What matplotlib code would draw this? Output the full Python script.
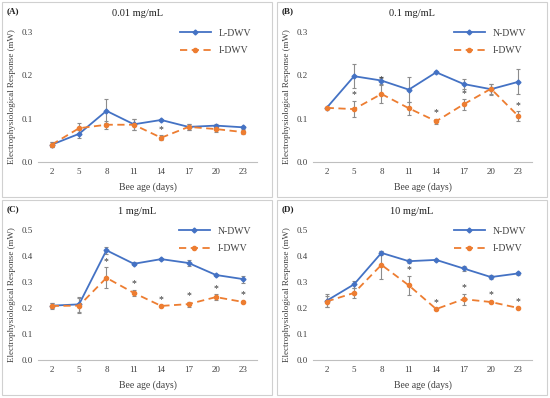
import numpy as np
import matplotlib.pyplot as plt
from matplotlib.patches import Rectangle
from matplotlib.lines import Line2D

plt.rcParams['font.family'] = ['Liberation Serif', 'DejaVu Serif']

ages = [2, 5, 8, 11, 14, 17, 20, 23]

# (A) 0.01 mg/mL
a_norm = [0.040, 0.065, 0.118, 0.087, 0.097, 0.081, 0.084, 0.080]
a_norm_err = [0.006, 0.010, 0.027, 0.013, 0.003, 0.007, 0.004, 0.004]
a_inf = [0.040, 0.078, 0.086, 0.086, 0.056, 0.081, 0.076, 0.069]
a_inf_err = [0.006, 0.012, 0.009, 0.013, 0.006, 0.007, 0.006, 0.005]
a_stars = [14]

# (B) 0.1 mg/mL
b_norm = [0.125, 0.198, 0.188, 0.167, 0.207, 0.180, 0.168, 0.185]
b_norm_err = [0.002, 0.028, 0.007, 0.029, 0.002, 0.011, 0.013, 0.029]
b_inf = [0.125, 0.122, 0.157, 0.124, 0.094, 0.133, 0.169, 0.106]
b_inf_err = [0.002, 0.019, 0.020, 0.015, 0.006, 0.012, 0.012, 0.011]
b_stars = [5, 8, 14, 17, 23]

# (C) 1 mg/mL
c_norm = [0.209, 0.214, 0.422, 0.370, 0.388, 0.373, 0.327, 0.311]
c_norm_err = [0.010, 0.028, 0.014, 0.006, 0.005, 0.011, 0.005, 0.013]
c_inf = [0.208, 0.209, 0.316, 0.258, 0.208, 0.215, 0.242, 0.223]
c_inf_err = [0.012, 0.030, 0.040, 0.012, 0.003, 0.010, 0.011, 0.005]
c_stars = [8, 11, 14, 17, 20, 23]

# (D) 10 mg/mL
d_norm = [0.228, 0.291, 0.412, 0.380, 0.385, 0.352, 0.319, 0.333]
d_norm_err = [0.025, 0.014, 0.009, 0.007, 0.004, 0.010, 0.008, 0.007]
d_inf = [0.225, 0.258, 0.366, 0.287, 0.196, 0.234, 0.223, 0.200]
d_inf_err = [0.022, 0.020, 0.055, 0.037, 0.003, 0.021, 0.005, 0.003]
d_stars = [11, 14, 17, 20, 23]

panels = [
    ('(A)', '0.01 mg/mL', 'L-DWV', a_norm, a_norm_err, a_inf, a_inf_err, a_stars, 0.3),
    ('(B)', '0.1 mg/mL', 'N-DWV', b_norm, b_norm_err, b_inf, b_inf_err, b_stars, 0.3),
    ('(C)', '1 mg/mL', 'N-DWV', c_norm, c_norm_err, c_inf, c_inf_err, c_stars, 0.5),
    ('(D)', '10 mg/mL', 'N-DWV', d_norm, d_norm_err, d_inf, d_inf_err, d_stars, 0.5),
]

W, H = 550, 398
fig = plt.figure(figsize=(W / 100, H / 100), dpi=100)

blue = '#4472C4'
orange = '#ED7D31'
grey = '#8c8c8c'
dash = (0, (4, 2.5))

# panel frames (pixel coords: left, top)
offsets = [(0, 0), (275, 0), (0, 198), (275, 198)]

x = np.arange(len(ages))
for (tag, title, nlab, nv, ne, iv, ie, stars, ymax), (ox, oy) in zip(panels, offsets):
    fig.patches.append(Rectangle(((ox + 2) / W, 1 - (oy + 197) / H), 270 / W, 195 / H,
                                 transform=fig.transFigure, fill=False,
                                 edgecolor='#d0d0d0', linewidth=0.8))
    left, top, right, bottom = ox + 38, oy + 32, ox + 257, oy + 162
    ax = fig.add_axes([left / W, 1 - bottom / H, (right - left) / W, (bottom - top) / H])

    ax.errorbar(x, nv, yerr=ne, color=blue, marker='D', markersize=2.5, linewidth=1.3,
                ecolor=grey, elinewidth=0.8, capsize=1.5, capthick=0.8, zorder=3)
    ax.errorbar(x, iv, yerr=ie, color=orange, marker='o', markersize=3, linewidth=1.3,
                linestyle=dash, ecolor=grey, elinewidth=0.8, capsize=1.5,
                capthick=0.8, zorder=3)

    for s in stars:
        k = ages.index(s)
        ax.text(x[k], iv[k] + ie[k] + ymax * 0.01, '*', ha='center', va='bottom',
                fontsize=7, color='#333333')

    ax.set_xlim(-0.5, len(ages) - 0.5)
    ax.set_ylim(0, ymax)
    yt = np.arange(0, ymax + 0.001, 0.1)
    ax.set_yticks(yt)
    ax.set_yticklabels([f'{v:.1f}' for v in yt])
    ax.set_xticks(x)
    ax.set_xticklabels([str(a) for a in ages])
    ax.tick_params(axis='both', labelsize=6.5, length=0, colors='#404040', pad=4)
    for sp in ['top', 'right', 'left']:
        ax.spines[sp].set_visible(False)
    ax.spines['bottom'].set_color('#bfbfbf')
    ax.spines['bottom'].set_linewidth(0.8)

    ax.set_xlabel('Bee age (days)', fontsize=7, color='#404040', labelpad=5)
    ax.set_ylabel('Electrophysiological Response (mW)', fontsize=6.5, color='#404040', labelpad=4)

    handles = [Line2D([], [], color=blue, marker='D', markersize=2.5, linewidth=1.3),
               Line2D([], [], color=orange, marker='o', markersize=3, linewidth=1.3, linestyle=dash)]
    leg = ax.legend(handles, [nlab, 'I-DWV'], loc='upper right', bbox_to_anchor=(1.0, 1.07),
                    frameon=False, fontsize=7, handlelength=3.2, labelspacing=0.9,
                    borderaxespad=0.2)
    for t in leg.get_texts():
        t.set_color('#404040')

    fig.text((ox + 137) / W, 1 - (oy + 14) / H, title, ha='center', va='center',
             fontsize=7.5, color='#202020')
    fig.text((ox + 7) / W, 1 - (oy + 11) / H, tag, ha='left', va='center',
             fontsize=6.5, fontweight='bold', color='#202020')

fig.savefig('out.png', dpi=100)
